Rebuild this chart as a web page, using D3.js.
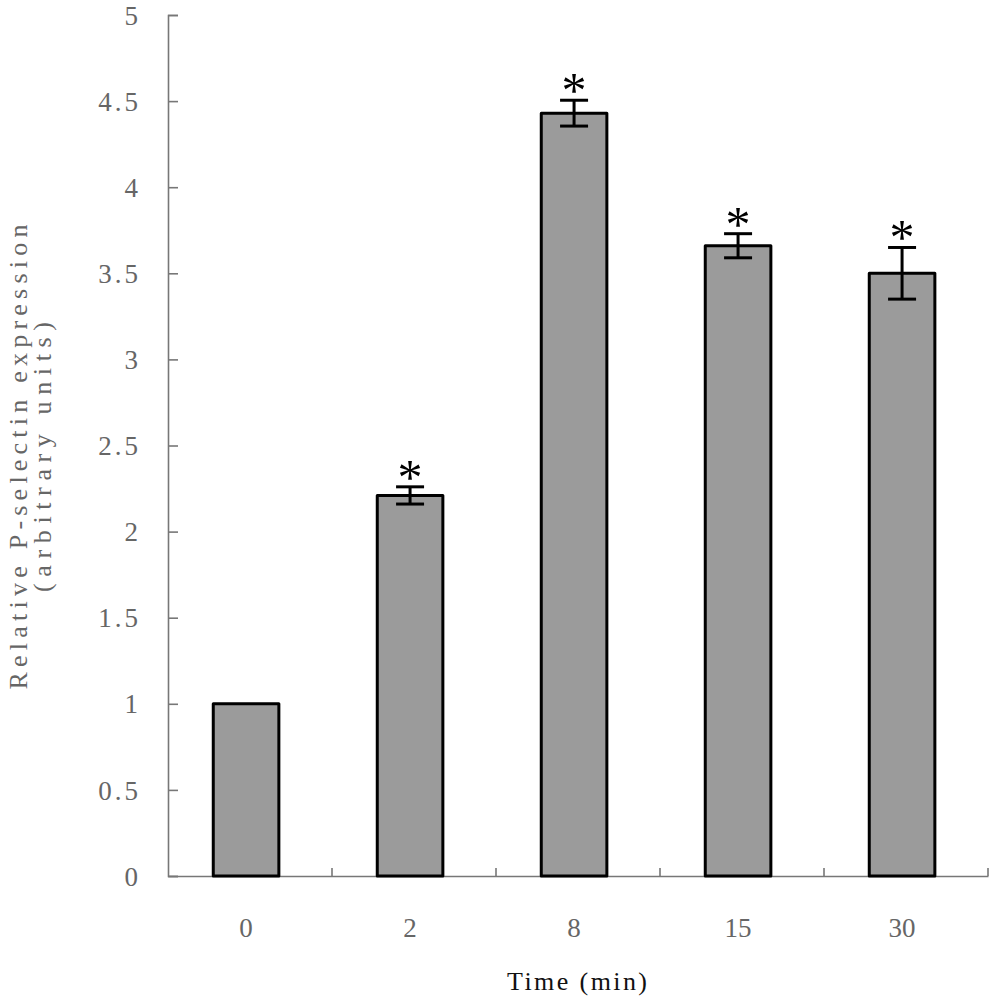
<!DOCTYPE html>
<html>
<head>
<meta charset="utf-8">
<script src="https://cdn.jsdelivr.net/npm/d3@7"></script>
<style>
  body { margin: 0; background: #fff; }
  text { font-family: "Liberation Serif", "DejaVu Serif", serif; }
</style>
</head>
<body>
<script>
// Chart data
const times = ["0", "2", "8", "15", "30"];
const means = [1.0, 2.21, 4.43, 3.66, 3.50];
const errors = [0, 0.05, 0.075, 0.07, 0.15];
const significant = [false, true, true, true, true];
const yTicks = [0, 0.5, 1, 1.5, 2, 2.5, 3, 3.5, 4, 4.5, 5];

const width = 994;
const height = 1000;
const margin = {left: 168, right: 6, top: 15, bottom: 124};

const svg = d3.select("body")
    .append("svg")
    .attr("width", width)
    .attr("height", height);

// Scales
const x = d3.scaleBand()
    .domain(times)
    .range([margin.left, width - margin.right])
    .paddingInner(0.6)
    .paddingOuter(0.3)
    .align(0.46);
const y = d3.scaleLinear()
    .domain([0, 5])
    .range([height - margin.bottom, margin.top]);

const data = times.map((t, i) => ({t: t, v: means[i], e: errors[i], s: significant[i]}));
const cx = d => x(d.t) + x.bandwidth() / 2;

// Y axis (ticks point inward)
const yAxis = svg.append("g")
    .attr("transform", `translate(${margin.left},0)`)
    .call(d3.axisLeft(y).tickValues(yTicks).tickSize(-10).tickSizeOuter(-10)
        .tickPadding(27).tickFormat(d => d % 1 === 0 ? d : d3.format(".1f")(d)));
yAxis.selectAll("path, line").attr("stroke", "#777").attr("stroke-width", 1.6);
yAxis.selectAll("text")
    .attr("fill", "#666")
    .style("font-size", "27px")
    .style("letter-spacing", "3px")
    .attr("dy", "0.34em");

// X axis with ticks at category boundaries
const xAxis = svg.append("g")
    .attr("transform", `translate(0,${y(0)})`)
    .call(d3.axisBottom(x).tickSize(0).tickSizeOuter(0).tickPadding(42));
xAxis.select(".domain").attr("stroke", "#777").attr("stroke-width", 1.6);
xAxis.selectAll("text").attr("fill", "#666").style("font-size", "27px");

svg.append("g")
    .selectAll("line")
    .data(times)
    .join("line")
    .attr("x1", (d, i) => margin.left + x.step() * (i + 1))
    .attr("x2", (d, i) => margin.left + x.step() * (i + 1))
    .attr("y1", y(0))
    .attr("y2", y(0) - 8)
    .attr("stroke", "#777")
    .attr("stroke-width", 1.6);

// Bars
svg.append("g")
    .selectAll("rect")
    .data(data)
    .join("rect")
    .attr("x", d => x(d.t))
    .attr("y", d => y(d.v))
    .attr("width", x.bandwidth())
    .attr("height", d => y(0) - y(d.v))
    .attr("fill", "#9b9b9b")
    .attr("stroke", "#000")
    .attr("stroke-width", 3)
    .attr("stroke-linejoin", "round");

// Error bars
const errs = svg.append("g")
    .attr("stroke", "#000")
    .attr("stroke-width", 3)
    .selectAll("g")
    .data(data.filter(d => d.e > 0))
    .join("g");
errs.append("line")
    .attr("x1", cx)
    .attr("x2", cx)
    .attr("y1", d => y(d.v + d.e))
    .attr("y2", d => y(d.v - d.e));
errs.append("line")
    .attr("x1", d => cx(d) - 14)
    .attr("x2", d => cx(d) + 14)
    .attr("y1", d => y(d.v + d.e))
    .attr("y2", d => y(d.v + d.e));
errs.append("line")
    .attr("x1", d => cx(d) - 14)
    .attr("x2", d => cx(d) + 14)
    .attr("y1", d => y(d.v - d.e))
    .attr("y2", d => y(d.v - d.e));

// Significance markers
svg.append("g")
    .selectAll("text")
    .data(data.filter(d => d.s))
    .join("text")
    .attr("x", cx)
    .attr("y", d => y(d.v + d.e) + 7)
    .attr("text-anchor", "middle")
    .style("font-size", "50px")
    .attr("fill", "#000")
    .text("*");

// Axis titles
svg.append("text")
    .attr("x", 577)
    .attr("y", 990)
    .attr("text-anchor", "middle")
    .attr("textLength", 140)
    .attr("lengthAdjust", "spacing")
    .style("font-size", "26px")
    .attr("fill", "#111")
    .text("Time (min)");

const yTitle = svg.append("g")
    .attr("transform", "translate(0,457) rotate(-90)")
    .attr("fill", "#666")
    .style("font-size", "26px");
yTitle.append("text")
    .attr("x", 0)
    .attr("y", 27)
    .attr("text-anchor", "middle")
    .attr("textLength", 465)
    .attr("lengthAdjust", "spacing")
    .text("Relative P-selectin expression");
yTitle.append("text")
    .attr("x", 0)
    .attr("y", 51)
    .attr("text-anchor", "middle")
    .attr("textLength", 270)
    .attr("lengthAdjust", "spacing")
    .text("(arbitrary units)");
</script>
</body>
</html>
